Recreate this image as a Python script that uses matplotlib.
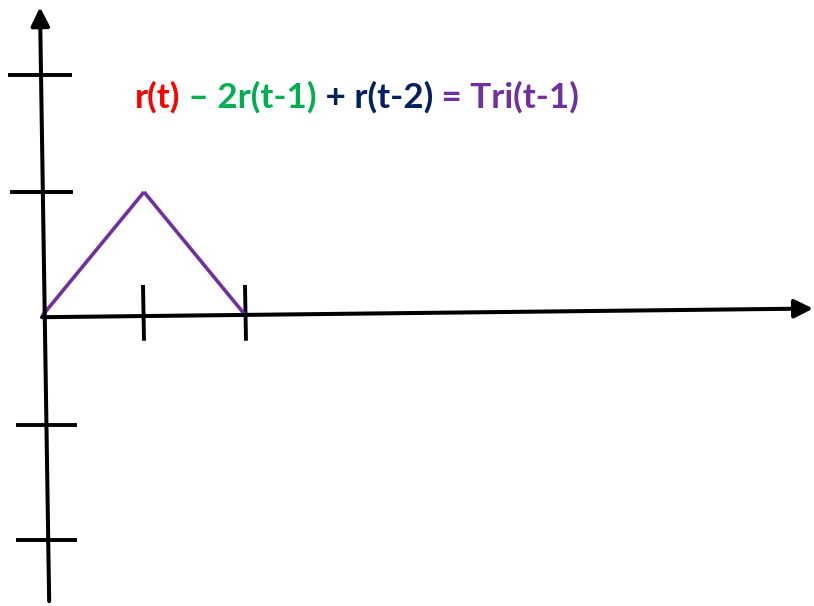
import matplotlib.pyplot as plt
from matplotlib.offsetbox import TextArea, HPacker, AnchoredOffsetbox

# triangle Tri(t-1) from r(t) - 2r(t-1) + r(t-2)
tri_t = [0, 1, 2]
tri_y = [0, 1, 0]

# hand-drawn tick positions
x_ticks = [1, 2]
y_ticks = [1.94, 1.0, -0.88, -1.81]
y_tick_left = [-0.33, -0.31, -0.26, -0.26]
y_tick_right = [0.29, 0.30, 0.34, 0.34]

title_parts = ["r(t)", " \u2013 2r(t-1)", " + r(t-2)", " = Tri(t-1)"]
title_colors = ["#FF0000", "#00B050", "#002060", "#7030A0"]

fig = plt.figure(figsize=(8.14, 6.06), dpi=100)
ax = fig.add_axes([0, 0, 1, 1])
ax.set_xlim(-0.412, 7.569)
ax.set_ylim(-2.339, 2.548)
ax.axis("off")

# axes with arrows (slightly slanted like the sketch)
ax.annotate("", xy=(7.56, 0.06), xytext=(0.0, -0.01),
            arrowprops=dict(arrowstyle="-|>", lw=2.9, color="black",
                            mutation_scale=28, shrinkA=0, shrinkB=0))
ax.annotate("", xy=(-0.02, 2.49), xytext=(0.07, -2.30),
            arrowprops=dict(arrowstyle="-|>", lw=2.9, color="black",
                            mutation_scale=28, shrinkA=0, shrinkB=0))

for yt, xl, xr in zip(y_ticks, y_tick_left, y_tick_right):
    ax.plot([xl, xr], [yt, yt], color="black", lw=2.8, solid_capstyle="butt")
for xt in x_ticks:
    ax.plot([xt - 0.01, xt], [0.25, -0.2], color="black", lw=2.8,
            solid_capstyle="butt")

# purple triangle drawn as two strokes
ax.plot(tri_t[:2], tri_y[:2], color="#7030A0", lw=2.6, solid_capstyle="butt")
ax.plot(tri_t[1:], tri_y[1:], color="#7030A0", lw=2.6, solid_capstyle="butt")

areas = [TextArea(p, textprops=dict(color=c, fontsize=25.2, fontweight="bold",
                                    family="Lato"))
         for p, c in zip(title_parts, title_colors)]
box = HPacker(children=areas, align="baseline", pad=0, sep=0)
anchored = AnchoredOffsetbox(loc="center", child=box, frameon=False,
                             bbox_to_anchor=(357 / 814, 1 - 97 / 606),
                             bbox_transform=fig.transFigure, borderpad=0)
ax.add_artist(anchored)

fig.savefig("out.png", dpi=100)
